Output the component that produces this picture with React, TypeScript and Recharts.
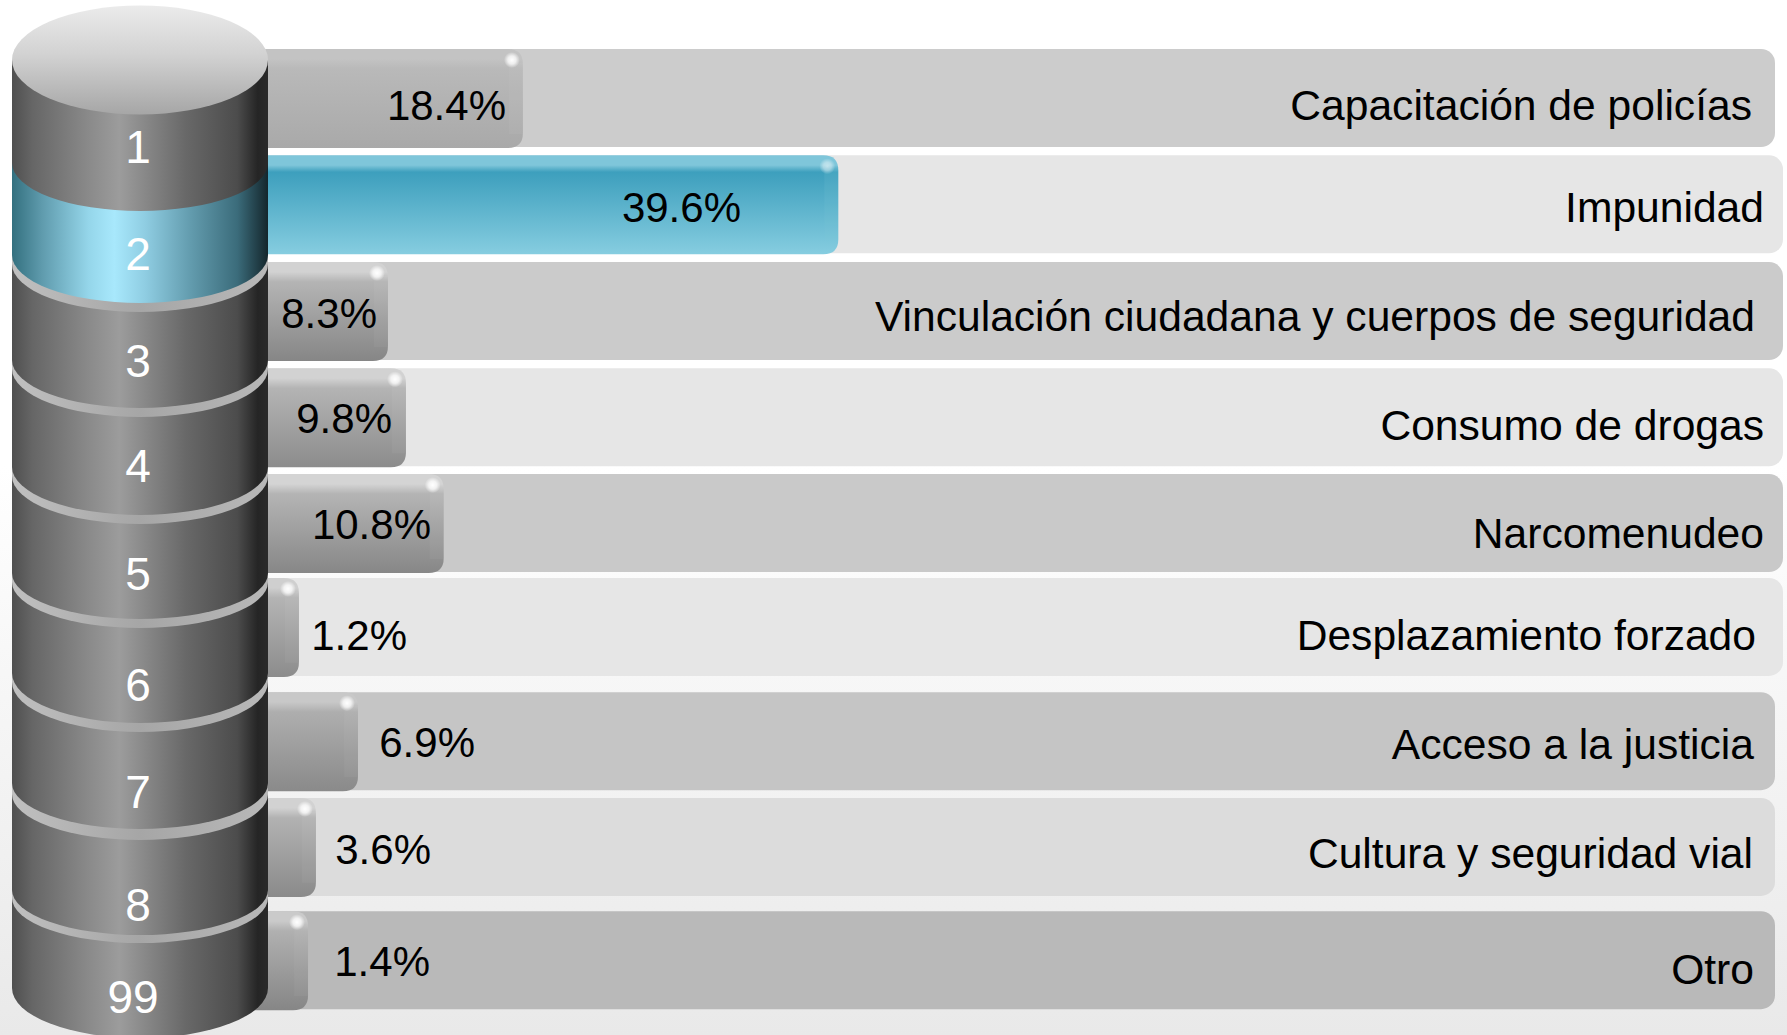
import React from "react";
import { BarChart, Bar, XAxis, YAxis, LabelList } from "recharts";

// ---- data ----
const categories = [
  "Capacitación de policías",
  "Impunidad",
  "Vinculación ciudadana y cuerpos de seguridad",
  "Consumo de drogas",
  "Narcomenudeo",
  "Desplazamiento forzado",
  "Acceso a la justicia",
  "Cultura y seguridad vial",
  "Otro",
];
const codes = ["1", "2", "3", "4", "5", "6", "7", "8", "99"];
const valueLabels = ["18.4%", "39.6%", "8.3%", "9.8%", "10.8%", "1.2%", "6.9%", "3.6%", "1.4%"];
// Bar lengths as they are drawn in the picture (the original is not strictly to scale)
const drawnLengths = [17.7, 39.6, 8.33, 9.58, 12.2, 2.15, 6.25, 3.33, 2.78];

const rows = categories.map((name, i) => ({
  name,
  code: codes[i],
  length: drawnLengths[i],
  label: valueLabels[i],
}));

// ---- layout & style tables ----
const W = 1787;
const H = 1035;
const FONT = '"Liberation Sans", Arial, sans-serif';
const ROW_NUDGE = [0, -1.5, -2.5, -4, -6, -10, -3.5, -5.5, 0];
const TRACK_TRIM = [8, 0, 0, 0, 0, 0, 8, 8, 8];
const TRACK_FILL = ["#cccccc", "#e6e6e6", "#cbcbcb", "#e6e6e6", "#c9c9c9", "#e6e6e6", "#c5c5c5", "#dcdcdc", "#b9b9b9"];
const BAR_TOP = ["#c3c3c3", "#7fc6da", "#d2d2d2", "#d2d2d2", "#d4d4d4", "#cfcfcf", "#c8c8c8", "#d2d2d2", "#cacaca"];
const BAR_MID = ["#b9b9b9", "#3d9fbd", "#b4b4b4", "#b4b4b4", "#b4b4b4", "#b4b4b4", "#aeaeae", "#b2b2b2", "#b0b0b0"];
const BAR_BOTTOM = ["#a9a9a9", "#86cde0", "#868686", "#8c8c8c", "#878787", "#8c8c8c", "#8a8a8a", "#8a8a8a", "#868686"];
const VALUE_END = [506, 741, 377, 392, 431, 407, 475, 431, 430];
const VALUE_BASE = [120, 222, 328, 433, 539, 650, 757, 864, 976];
const NAME_END = [1752, 1764, 1755, 1764, 1764, 1756, 1754, 1753, 1754];
const NAME_BASE = [120, 222, 331, 440, 548, 650, 759, 868, 984];
const CODE_X = [138, 138, 138, 138, 138, 138, 138, 138, 133];
const CODE_BASE = [163, 270, 377, 482, 590, 701, 808, 921, 1013];

// cylinder geometry: [side y, arc ry, rim thickness]
const CYL_L = 12;
const CYL_R = 268;
const SECTION_SIDE = [163, 255, 360, 467, 573, 673, 783, 890, 988];
const SECTION_RY = [48, 48, 48, 48, 46, 50, 46, 45, 50];
const RIM = [0, 9, 9, 9, 9, 9, 11, 8, 0];

const sectionPath = (top: number, side: number, ry: number) =>
  `M${CYL_L} ${top} L${CYL_L} ${side} A${(CYL_R - CYL_L) / 2} ${ry} 0 0 0 ${CYL_R} ${side} L${CYL_R} ${top} Z`;

function BarGradients() {
  return (
    <defs>
      {rows.map((_, i) => (
        <linearGradient key={i} id={`bar${i}`} x1="0" y1="0" x2="0" y2="1">
          <stop offset="0" stopColor={BAR_TOP[i]} />
          <stop offset="0.1" stopColor={BAR_TOP[i]} />
          <stop offset={i === 1 ? "0.17" : "0.2"} stopColor={BAR_MID[i]} />
          <stop offset="1" stopColor={BAR_BOTTOM[i]} />
        </linearGradient>
      ))}
      <radialGradient id="glint">
        <stop offset="0" stopColor="#ffffff" stopOpacity="1" />
        <stop offset="0.5" stopColor="#ffffff" stopOpacity="0.75" />
        <stop offset="1" stopColor="#ffffff" stopOpacity="0" />
      </radialGradient>
    </defs>
  );
}

function CylinderGradients() {
  return (
    <defs>
      <linearGradient id="cylGray" x1="0" y1="0" x2="1" y2="0">
        <stop offset="0" stopColor="#4f4f4f" />
        <stop offset="0.08" stopColor="#666666" />
        <stop offset="0.3" stopColor="#8a8a8a" />
        <stop offset="0.42" stopColor="#9c9c9c" />
        <stop offset="0.5" stopColor="#8c8c8c" />
        <stop offset="0.68" stopColor="#686868" />
        <stop offset="0.88" stopColor="#4c4c4c" />
        <stop offset="0.96" stopColor="#252525" />
        <stop offset="1" stopColor="#2a2a2a" />
      </linearGradient>
      <linearGradient id="cylBlue" x1="0" y1="0" x2="1" y2="0">
        <stop offset="0" stopColor="#33707f" />
        <stop offset="0.12" stopColor="#609cae" />
        <stop offset="0.3" stopColor="#95d6ea" />
        <stop offset="0.4" stopColor="#a8e8fc" />
        <stop offset="0.52" stopColor="#8fcde2" />
        <stop offset="0.7" stopColor="#629bad" />
        <stop offset="0.88" stopColor="#3b6c7b" />
        <stop offset="1" stopColor="#14262c" />
      </linearGradient>
      <linearGradient id="cylTop" x1="0" y1="0" x2="0" y2="1">
        <stop offset="0" stopColor="#ebebeb" />
        <stop offset="0.45" stopColor="#d2d2d2" />
        <stop offset="1" stopColor="#a6a6a6" />
      </linearGradient>
      <linearGradient id="cylRim" x1="0" y1="0" x2="1" y2="0">
        <stop offset="0" stopColor="#c0c0c0" />
        <stop offset="0.5" stopColor="#a6a6a6" />
        <stop offset="1" stopColor="#b8b8b8" />
      </linearGradient>
    </defs>
  );
}

function Track(props: any) {
  const { x, y, width, height, index } = props;
  const top = y + ROW_NUDGE[index];
  const left = x - 40;
  return (
    <rect
      x={left}
      y={top}
      width={width + 40 - TRACK_TRIM[index]}
      height={height}
      rx={14}
      ry={14}
      fill={TRACK_FILL[index]}
    />
  );
}

function Lozenge(props: any) {
  const { x, y, width, height, index } = props;
  const top = y + ROW_NUDGE[index];
  const h = height + 1;
  const right = x + width;
  const left = x - 40;
  const r = 15;
  const d = `M${left} ${top} H${right - r} Q${right} ${top} ${right} ${top + r} V${top + h - r} Q${right} ${
    top + h
  } ${right - r} ${top + h} H${left} Z`;
  const blue = index === 1;
  return (
    <g>
      <path d={d} fill={`url(#bar${index})`} />
      <rect
        x={right - 14}
        y={top + 14}
        width={14}
        height={h - 28}
        fill={blue ? "#7fc6da" : "#ffffff"}
        opacity={blue ? 0.15 : 0.04}
      />
      <circle cx={right - 11} cy={top + 11} r={8} fill="url(#glint)" opacity={blue ? 0.55 : 1} />
    </g>
  );
}

function Cylinder() {
  const rx = (CYL_R - CYL_L) / 2;
  const cx = CYL_L + rx;
  const order = [8, 7, 6, 5, 4, 3, 2, 1, 0];
  return (
    <svg
      width={W}
      height={H}
      style={{ position: "absolute", left: 0, top: 0, pointerEvents: "none" }}
    >
      <CylinderGradients />
      {order.map((i) => {
        const side = SECTION_SIDE[i];
        const ry = SECTION_RY[i];
        const top = i === 0 ? 60 : SECTION_SIDE[i - 1] - 20;
        return (
          <g key={i}>
            {RIM[i] > 0 && <path d={sectionPath(top, side + RIM[i], ry)} fill="url(#cylRim)" />}
            <path d={sectionPath(top, side, ry)} fill={i === 1 ? "url(#cylBlue)" : "url(#cylGray)"} />
          </g>
        );
      })}
      <ellipse cx={cx} cy={60} rx={rx} ry={54.5} fill="url(#cylTop)" />
      {rows.map((r, i) => (
        <text key={r.code} x={CODE_X[i]} y={CODE_BASE[i]} textAnchor="middle" fontFamily={FONT} fontSize={46} fill="#ffffff">
          {r.code}
        </text>
      ))}
    </svg>
  );
}

const valueContent = (props: any) => {
  const { index, value } = props;
  return (
    <text x={VALUE_END[index]} y={VALUE_BASE[index]} textAnchor="end" fontFamily={FONT} fontSize={42} fill="#000000">
      {value}
    </text>
  );
};

const nameContent = (props: any) => {
  const { index, value } = props;
  return (
    <text x={NAME_END[index]} y={NAME_BASE[index]} textAnchor="end" fontFamily={FONT} fontSize={42.6} fill="#000000">
      {value}
    </text>
  );
};

export default function App() {
  return (
    <div
      style={{
        position: "absolute",
        left: 0,
        top: 0,
        width: W,
        height: H,
        overflow: "hidden",
        background: "linear-gradient(#ffffff 0%, #ffffff 45%, #e9e9e9 100%)",
      }}
    >
      <BarChart
        width={W}
        height={H}
        data={rows}
        layout="vertical"
        margin={{ top: 44, right: 4, bottom: 21, left: 268 }}
        barSize={98}
      >
        <BarGradients />
        <XAxis type="number" domain={[0, 105.2]} hide />
        <YAxis type="category" dataKey="name" hide />
        <Bar
          dataKey="length"
          isAnimationActive={false}
          background={(p: any) => <Track {...p} />}
          shape={(p: any) => <Lozenge {...p} />}
        >
          <LabelList dataKey="label" content={valueContent} />
          <LabelList dataKey="name" content={nameContent} />
        </Bar>
      </BarChart>
      <Cylinder />
    </div>
  );
}
